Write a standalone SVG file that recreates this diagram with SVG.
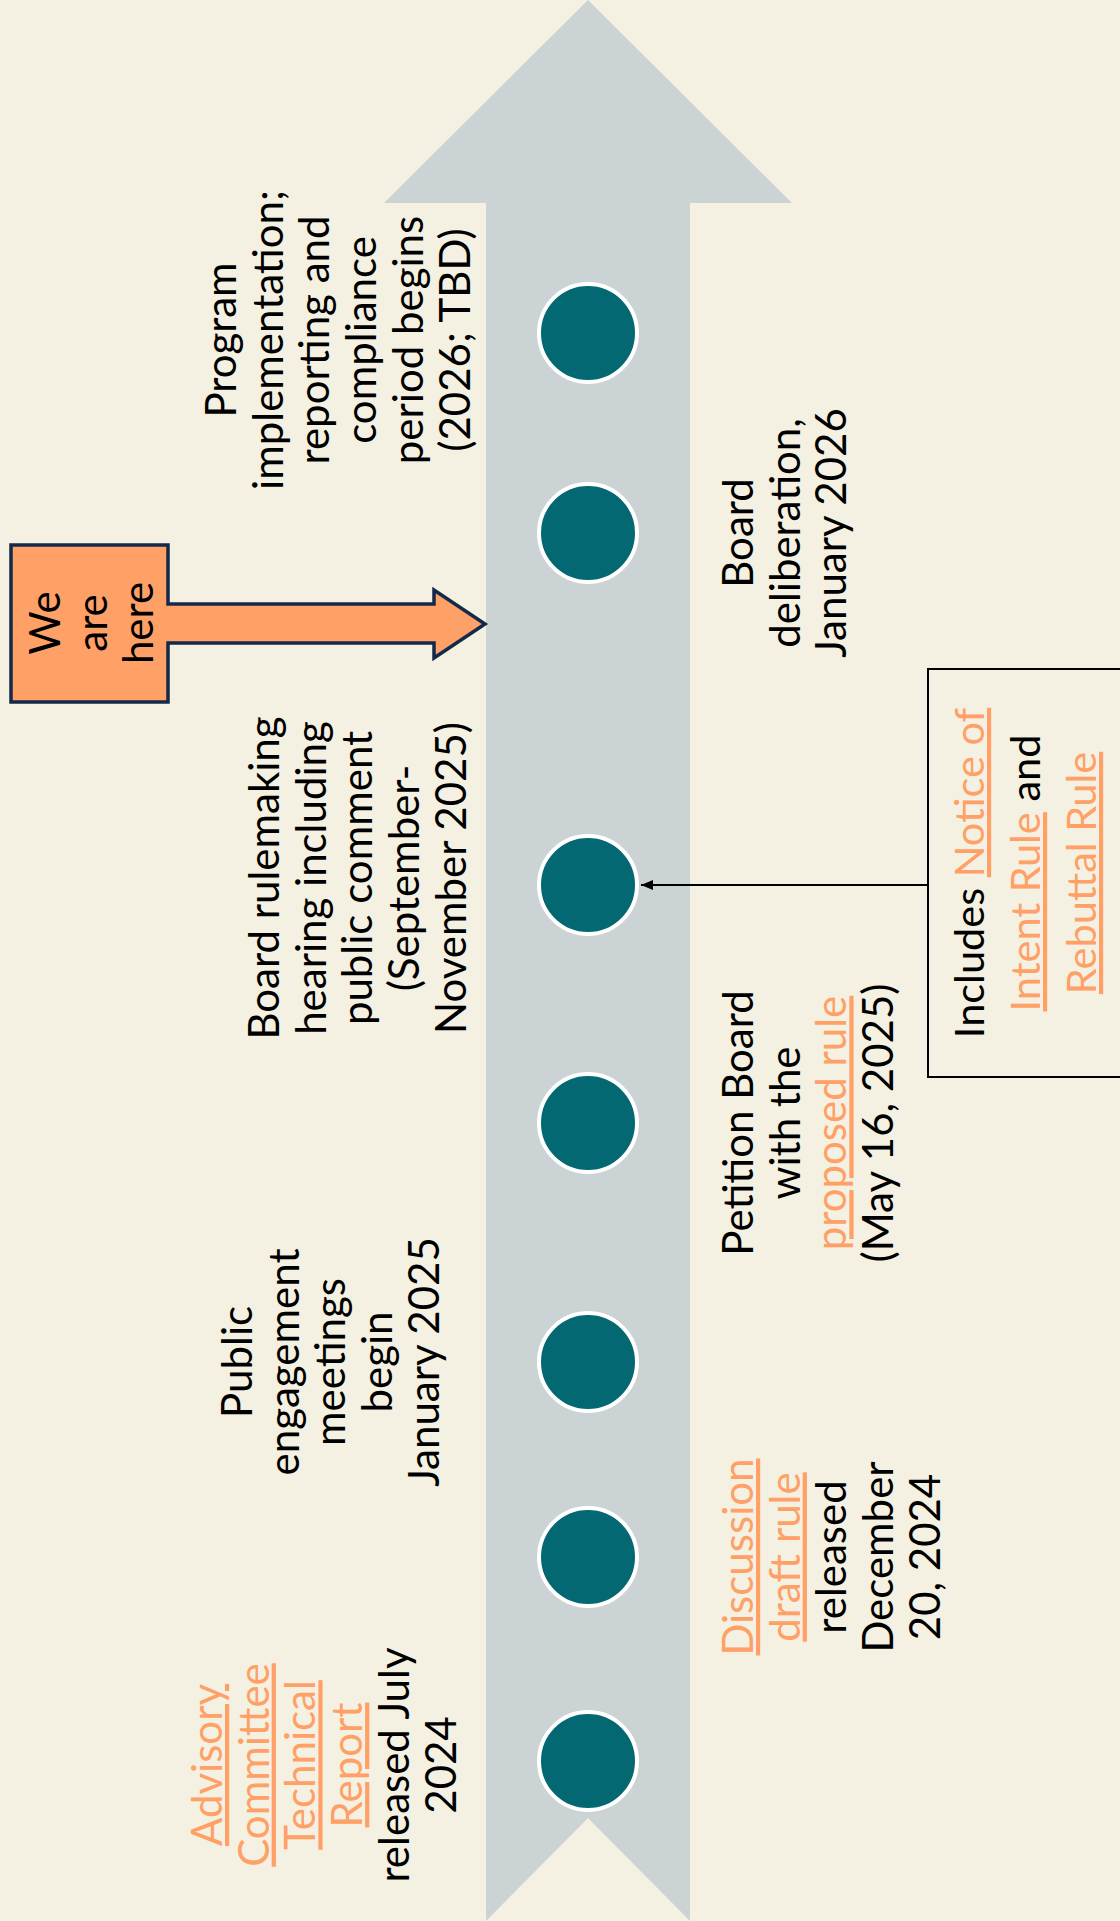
<svg xmlns="http://www.w3.org/2000/svg" width="1120" height="1921" viewBox="0 0 1120 1921">
<style>
.t{font-family:Lato,"Liberation Sans",sans-serif;font-size:42px;fill:#000;text-anchor:middle}
.o{fill:#FFA066;text-decoration:underline;text-decoration-skip-ink:none;text-decoration-thickness:1.5px}
.dot{fill:#046872;stroke:#fff;stroke-width:4}
</style>
<defs>
<marker id="ah" markerWidth="12" markerHeight="10" refX="12" refY="5" orient="auto" markerUnits="userSpaceOnUse">
<path d="M0,0 L12,5 L0,10 Z" fill="#000"/>
</marker>
</defs>
<rect width="1120" height="1921" fill="#F4F0E2"/>
<g id="timeline">
<polygon points="486,1921 486,203 384,203 588,0 792,203 690,203 690,1921 588,1818" fill="#CBD3D5"/>
</g>
<g id="connectors">
<line x1="928" y1="885" x2="641" y2="885" stroke="#000" stroke-width="2" marker-end="url(#ah)"/>
</g>
<g id="n1"><circle class="dot" cx="588" cy="333" r="49"/>
<text class="t" transform="translate(236,340) rotate(-90)"><tspan x="0" y="0">Program</tspan><tspan x="0" dy="46.7">implementation;</tspan><tspan x="0" dy="46.7">reporting and</tspan><tspan x="0" dy="46.7">compliance</tspan><tspan x="0" dy="46.7">period begins</tspan><tspan x="0" dy="46.7">(2026; TBD)</tspan></text></g>
<g id="n2"><circle class="dot" cx="588" cy="533" r="49"/>
<text class="t" transform="translate(753,533) rotate(-90)"><tspan x="0" y="0">Board</tspan><tspan x="0" dy="46.7">deliberation,</tspan><tspan x="0" dy="46.7">January 2026</tspan></text></g>
<g id="here">
<path d="M11,545 H168 V604 H434 V590 L485,624 L434,658 V643 H168 V702 H11 Z" fill="#FFA066" stroke="#13294B" stroke-width="3.5" stroke-linejoin="miter"/>
<text class="t" transform="translate(60,623) rotate(-90)"><tspan x="0" y="0">We</tspan><tspan x="0" dy="46.7">are</tspan><tspan x="0" dy="46.7">here</tspan></text></g>
<g id="n3"><circle class="dot" cx="588" cy="885" r="49"/>
<text class="t" transform="translate(279,878) rotate(-90)"><tspan x="0" y="0">Board rulemaking</tspan><tspan x="0" dy="46.7">hearing including</tspan><tspan x="0" dy="46.7">public comment</tspan><tspan x="0" dy="46.7">(September-</tspan><tspan x="0" dy="46.7">November 2025)</tspan></text></g>
<g id="note">
<rect x="928" y="669" width="200" height="408" fill="none" stroke="#000" stroke-width="2"/>
<text class="t" style="font-size:41.5px" transform="translate(984,873) rotate(-90)"><tspan x="0" y="0">Includes <tspan class="o">Notice of</tspan></tspan><tspan x="0" dy="56"><tspan class="o">Intent Rule</tspan> and</tspan><tspan x="0" dy="56" class="o">Rebuttal Rule</tspan></text></g>
<g id="n4"><circle class="dot" cx="588" cy="1123" r="49"/>
<text class="t" transform="translate(753,1123) rotate(-90)"><tspan x="0" y="0">Petition Board</tspan><tspan x="0" dy="46.7">with the</tspan><tspan x="0" dy="46.7" class="o">proposed rule</tspan><tspan x="0" dy="46.7">(May 16, 2025)</tspan></text></g>
<g id="n5"><circle class="dot" cx="588" cy="1362" r="49"/>
<text class="t" transform="translate(252,1362) rotate(-90)"><tspan x="0" y="0">Public</tspan><tspan x="0" dy="46.7">engagement</tspan><tspan x="0" dy="46.7">meetings</tspan><tspan x="0" dy="46.7">begin</tspan><tspan x="0" dy="46.7">January 2025</tspan></text></g>
<g id="n6"><circle class="dot" cx="588" cy="1557" r="49"/>
<text class="t" transform="translate(753,1557) rotate(-90)"><tspan x="0" y="0" class="o">Discussion</tspan><tspan x="0" dy="46.7" class="o">draft rule</tspan><tspan x="0" dy="46.7">released</tspan><tspan x="0" dy="46.7">December</tspan><tspan x="0" dy="46.7">20, 2024</tspan></text></g>
<g id="n7"><circle class="dot" cx="588" cy="1761" r="49"/>
<text class="t" transform="translate(222,1765) rotate(-90)"><tspan x="0" y="0" class="o">Advisory</tspan><tspan x="0" dy="46.7" class="o">Committee</tspan><tspan x="0" dy="46.7" class="o">Technical</tspan><tspan x="0" dy="46.7" class="o">Report</tspan><tspan x="0" dy="46.7">released July</tspan><tspan x="0" dy="46.7">2024</tspan></text></g>
</svg>
